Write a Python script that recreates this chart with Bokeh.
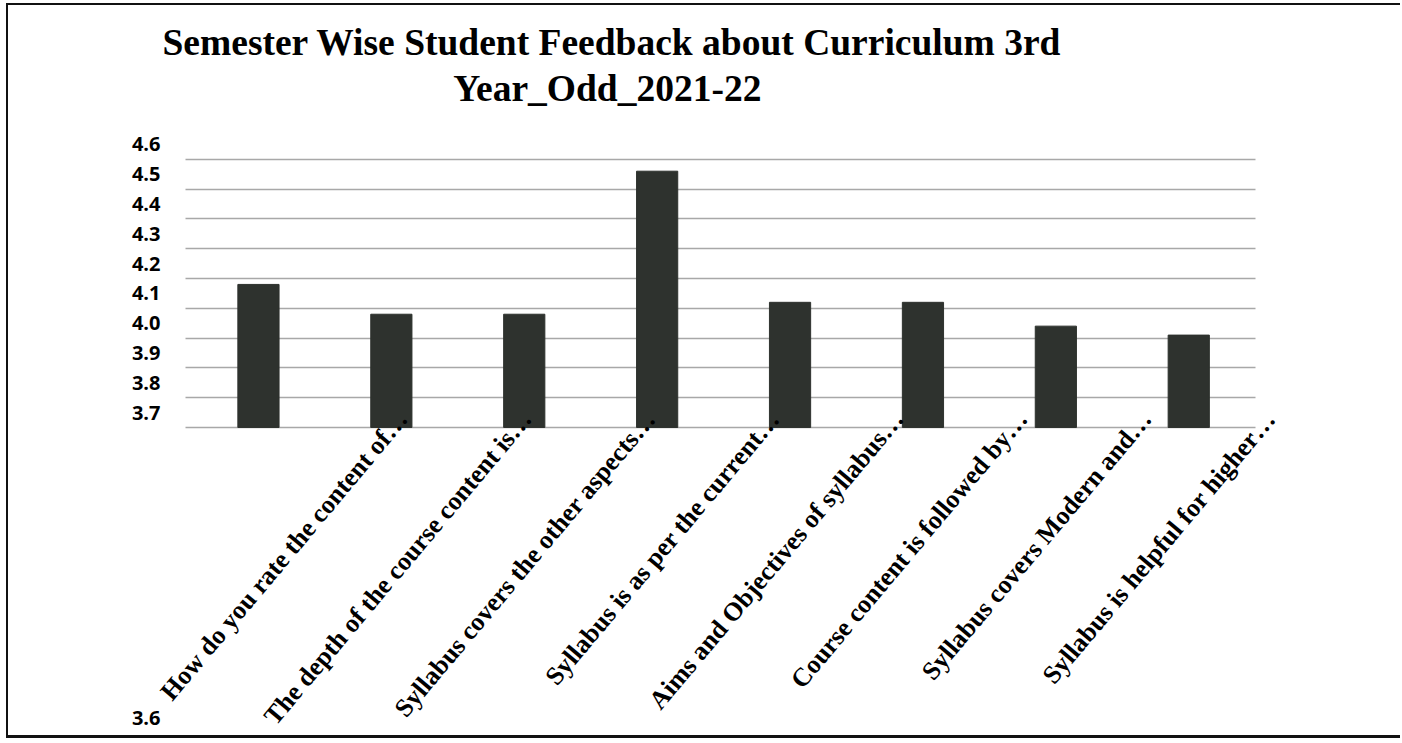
from bokeh.plotting import figure
from bokeh.models import Range1d, LinearAxis, FixedTicker, NumeralTickFormatter, Title
from bokeh.embed import file_html
from bokeh.resources import INLINE
import math

# ---------------- data ----------------
title_lines = ["Semester Wise Student Feedback about Curriculum 3rd", "Year_Odd_2021-22"]
categories = [
    "How do you rate the content of…",
    "The depth of the course content is…",
    "Syllabus covers the other aspects…",
    "Syllabus is as per the current…",
    "Aims and Objectives of syllabus…",
    "Course content is followed by…",
    "Syllabus covers Modern and…",
    "Syllabus is helpful for higher…",
]
scores = [4.18, 4.08, 4.08, 4.56, 4.12, 4.12, 4.04, 4.01]
y_ticks = [3.7, 3.8, 3.9, 4.0, 4.1, 4.2, 4.3, 4.4, 4.5, 4.6]
y_bottom_label = "3.6"
baseline = 3.7

# ---------------- layout ----------------
W, H = 1394, 735                 # canvas size (CSS borders/margins are outside)
ML, MR, MT, MB = 142, 117, 135, 0
frame_w = W - ML - MR
frame_h = H - MT - MB
n = len(categories)
px_per_unit = 298.0              # vertical pixels per score unit
y_hi = 4.663
y_lo = y_hi - frame_h / px_per_unit
px_per_x = 132.9                 # horizontal pixels per category
x_start = -41.5 / px_per_x
x_end = x_start + frame_w / px_per_x

p = figure(width=W, height=H, output_backend="svg", toolbar_location=None,
           x_range=Range1d(x_start, x_end), y_range=Range1d(y_lo, y_hi),
           x_axis_location=None, y_axis_location=None,
           min_border_left=ML, min_border_right=MR, min_border_top=MT, min_border_bottom=MB)
p.outline_line_color = None
p.background_fill_color = "white"
p.border_fill_color = "white"
p.styles = {"border-left": "2px solid #111", "border-top": "2px solid #111",
            "border-bottom": "3px solid #111", "margin-left": "6px", "margin-top": "3px"}

# title: spacer next to the frame, then the two-line title (2nd line centred by padding)
spacer = Title(text="\u00a0", standoff=0, text_font="Liberation Serif", text_font_size="26px")
pad = "\u00a0" * 31
title = Title(text=title_lines[0] + "\n" + pad + title_lines[1], align="left", offset=12,
              standoff=0, text_font="Liberation Serif", text_font_style="bold",
              text_font_size="37.5px", text_color="black", text_line_height=1.13)
p.add_layout(spacer, "above")
p.add_layout(title, "above")

# horizontal grid lines (only across the bar area)
grid_x = (-0.05, 8.0)
grid = p.ygrid[0]
p.xgrid.visible = False
if "cross_bounds" in grid.properties():
    grid.ticker = FixedTicker(ticks=y_ticks)
    grid.cross_bounds = grid_x
    grid.grid_line_color = "#a8a8a8"
    grid.grid_line_width = 1.3
else:
    grid.visible = False
    p.segment(x0=[grid_x[0]] * len(y_ticks), x1=[grid_x[1]] * len(y_ticks), y0=y_ticks, y1=y_ticks,
              line_color="#a8a8a8", line_width=1.3)

# bars
xs = [i + 0.5 for i in range(n)]
p.vbar(x=xs, top=scores, bottom=baseline, width=0.31, fill_color="#2e322e", line_color="#2e322e")

# y label axis (labels sit half a step above their gridline; the scan shows "3.6" far below)
shift = 0.05
p.extra_y_ranges = {"ylab": Range1d(y_lo - shift, y_hi - shift)}
v36 = (y_hi - shift) - (712 - MT) / px_per_unit
yax = LinearAxis(y_range_name="ylab", ticker=FixedTicker(ticks=[v36] + y_ticks),
                 formatter=NumeralTickFormatter(format="0.0"),
                 major_label_overrides={v36: y_bottom_label})
yax.axis_line_color = None
yax.major_tick_line_color = None
yax.minor_tick_line_color = None
yax.major_tick_out = 0
yax.major_label_standoff = -10
yax.major_label_text_font = "Open Sans"
yax.major_label_text_font_style = "bold"
yax.major_label_text_font_size = "20px"
yax.major_label_text_color = "black"
p.add_layout(yax, "left")

# x label axis (category labels, rotated), drawn on the baseline
label_step_px = 124
first_label_px = 252
xs0 = -first_label_px / label_step_px
p.extra_x_ranges = {"xlab": Range1d(xs0, xs0 + frame_w / label_step_px)}
xax = LinearAxis(x_range_name="xlab", ticker=FixedTicker(ticks=list(range(n))),
                 major_label_overrides={i: c for i, c in enumerate(categories)},
                 fixed_location=baseline)
xax.axis_line_color = None
xax.major_tick_line_color = None
xax.minor_tick_line_color = None
xax.major_tick_out = 0
xax.major_tick_in = 0
xax.major_label_standoff = -13
xax.major_label_orientation = math.radians(50)
xax.major_label_text_font = "Liberation Serif"
xax.major_label_text_font_style = "bold"
xax.major_label_text_font_size = "26px"
xax.major_label_text_color = "black"
p.add_layout(xax, "below")

open("out.html", "w").write(file_html(p, INLINE))
